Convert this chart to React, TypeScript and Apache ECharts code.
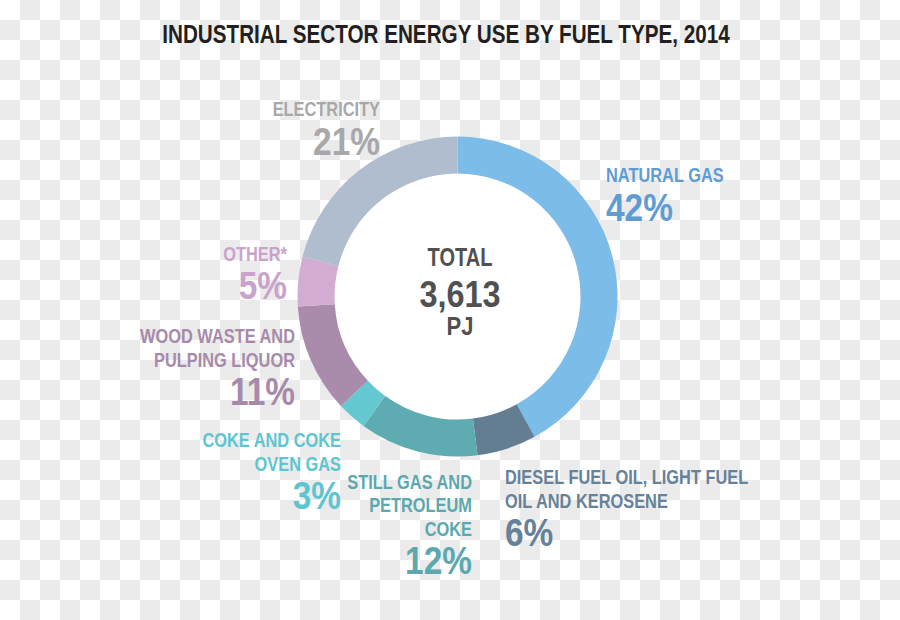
import React, { useEffect, useRef } from "react";
import * as echarts from "echarts";

// ---- data ----
const titleText = "INDUSTRIAL SECTOR ENERGY USE BY FUEL TYPE, 2014";
const fuelTypes = [
  "Natural gas",
  "Diesel fuel oil, light fuel oil and kerosene",
  "Still gas and petroleum coke",
  "Coke and coke oven gas",
  "Wood waste and pulping liquor",
  "Other*",
  "Electricity",
];
const labelLines = [
  ["NATURAL GAS"],
  ["DIESEL FUEL OIL, LIGHT FUEL", "OIL AND KEROSENE"],
  ["STILL GAS AND", "PETROLEUM", "COKE"],
  ["COKE AND COKE", "OVEN GAS"],
  ["WOOD WASTE AND", "PULPING LIQUOR"],
  ["OTHER*"],
  ["ELECTRICITY"],
];
const sharePercent = [42, 6, 12, 3, 11, 5, 21];
const totalLabel = "TOTAL";
const totalValue = "3,613";
const totalUnit = "PJ";

// ---- styles / layout ----
const sliceColors = ["#7CBCE8", "#637D92", "#5EABB1", "#64C8D1", "#AA8BAB", "#D2ACD3", "#B0BDCE"];
const labelColors = ["#5E9CD4", "#66819A", "#5CA8AE", "#5EC5D0", "#A78AAA", "#C9A3CB", "#A8A7A9"];
const labelAnchors = [
  { x: 606, y: 175, align: "left" },
  { x: 505, y: 477, align: "left" },
  { x: 472, y: 481.5, align: "right" },
  { x: 341, y: 440, align: "right" },
  { x: 295, y: 336, align: "right" },
  { x: 287, y: 253.5, align: "right" },
  { x: 380, y: 109, align: "right" },
];
const FONT = "'Liberation Sans', Arial, sans-serif";
const NAME_SIZE = 19.5;
const NAME_SX = 0.84;
const PCT_SIZE = 38;
const PCT_SX = 0.88;
const LINE_GAP = 23.5;
const PCT_GAP = 31;

function txt(text: string, x: number, y: number, size: number, sx: number, color: string, align: string) {
  return {
    type: "text",
    x,
    y: y + size * 0.05,
    z: 100,
    zlevel: 0,
    scaleX: sx,
    silent: true,
    style: {
      text,
      fill: color,
      font: `bold ${size}px ${FONT}`,
      textAlign: align,
      textVerticalAlign: "middle",
    },
  };
}

export default function App() {
  const ref = useRef<HTMLDivElement>(null);
  useEffect(() => {
    if (!ref.current) return;
    const chart = echarts.init(ref.current, undefined, { renderer: "svg" });
    const graphics: any[] = [];
    graphics.push(txt(titleText, 446, 32.5, 26.5, 0.78, "#231F20", "center"));
    graphics.push(txt(totalLabel, 460, 256, 25, 0.8, "#505051", "center"));
    graphics.push(txt(totalValue, 460, 291.5, 37.7, 0.86, "#505051", "center"));
    graphics.push(txt(totalUnit, 460, 325, 25, 0.88, "#505051", "center"));
    labelLines.forEach((lines, i) => {
      const a = labelAnchors[i];
      lines.forEach((ln, j) => {
        graphics.push(txt(ln, a.x, a.y + j * LINE_GAP, NAME_SIZE, NAME_SX, labelColors[i], a.align));
      });
      const pctY = a.y + (lines.length - 1) * LINE_GAP + PCT_GAP;
      graphics.push(txt(sharePercent[i] + "%", a.x, pctY, PCT_SIZE, PCT_SX, labelColors[i], a.align));
    });

    chart.setOption({
      animation: false,
      series: [
        {
          type: "pie",
          z: 1,
          center: [457.5, 296.5],
          radius: [0, 123],
          silent: true,
          label: { show: false },
          labelLine: { show: false },
          itemStyle: { color: "#FFFFFF" },
          data: [{ value: 1, name: "hole" }],
        },
        {
          type: "pie",
          z: 2,
          center: [457.5, 296.5],
          radius: [123, 160],
          startAngle: 90,
          clockwise: true,
          silent: true,
          label: { show: false },
          labelLine: { show: false },
          itemStyle: { borderWidth: 0 },
          data: fuelTypes.map((n, i) => ({
            name: n,
            value: sharePercent[i],
            itemStyle: { color: sliceColors[i] },
          })),
        },
      ],
      graphic: { elements: graphics, z: 100 },
    });
    return () => chart.dispose();
  }, []);
  return (
    <div
      style={{
        position: "fixed",
        left: 0,
        top: 0,
        width: 900,
        height: 620,
        backgroundColor: "#FFFFFF",
        backgroundImage:
          "conic-gradient(#EBEBEB 0 25%, transparent 0 50%, #EBEBEB 0 75%, transparent 0)",
        backgroundSize: "40px 40px",
      }}
    >
      <div ref={ref} style={{ width: 900, height: 620 }} />
    </div>
  );
}
